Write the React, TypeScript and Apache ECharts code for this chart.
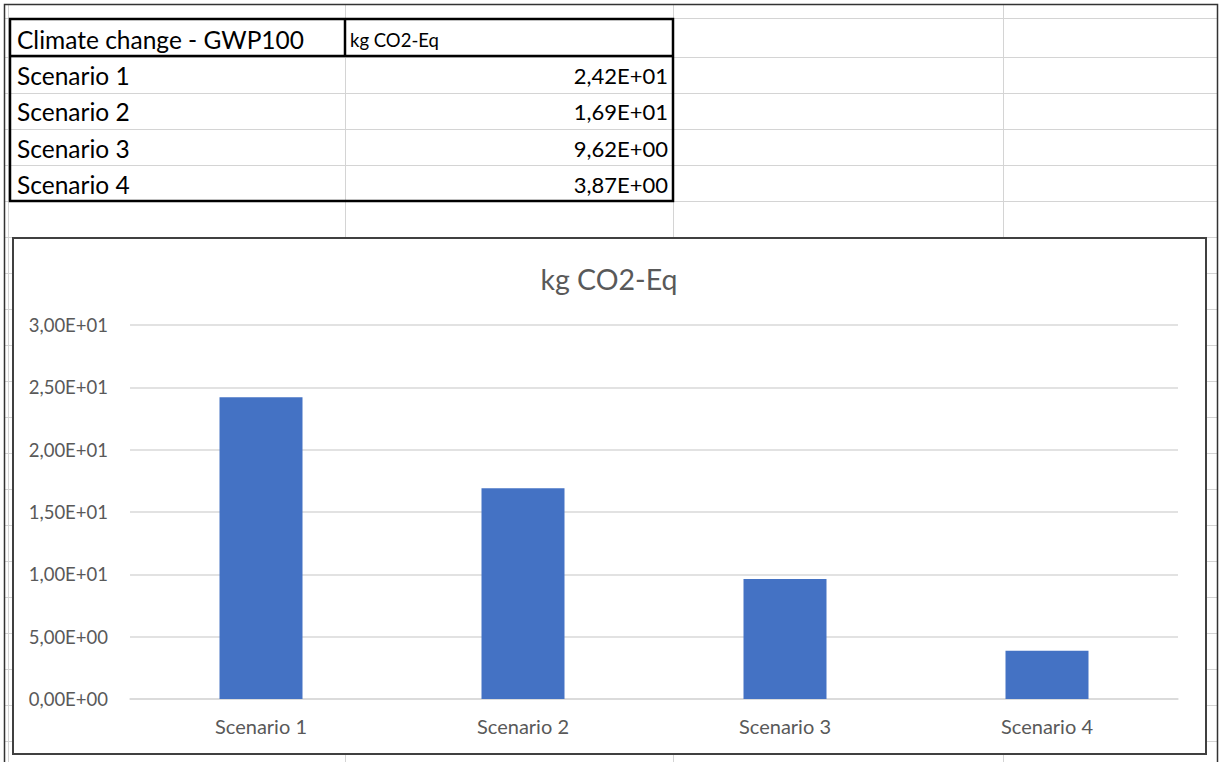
import React, { useEffect, useRef } from "react";
import * as echarts from "echarts";

const categories = ["Scenario 1", "Scenario 2", "Scenario 3", "Scenario 4"];
const values = [24.2, 16.9, 9.62, 3.87];
const headerLabel = "Climate change - GWP100";
const unitLabel = "kg CO2-Eq";
const yMin = 0;
const yMax = 30;
const yInterval = 5;

function fmtE(v: number): string {
  if (v === 0) return "0,00E+00";
  let e = Math.floor(Math.log10(Math.abs(v)));
  let m = v / Math.pow(10, e);
  if (Number(m.toFixed(2)) >= 10) {
    m /= 10;
    e += 1;
  }
  const s = m.toFixed(2).replace(".", ",");
  const es = (e < 0 ? "-" : "+") + String(Math.abs(e)).padStart(2, "0");
  return s + "E" + es;
}

const FONT = "Lato, 'Open Sans', sans-serif";

function buildGraphics() {
  const els: any[] = [];
  const gray = "#d4d4d4";
  // spreadsheet horizontal lines
  const rowYs: number[] = [18, 57];
  for (let y = 93; y < 762; y += 36) rowYs.push(y);
  rowYs.forEach((y) =>
    els.push({
      type: "line",
      z: -30,
      shape: { x1: 5, y1: y + 0.5, x2: 1217, y2: y + 0.5 },
      style: { stroke: gray, lineWidth: 1 },
    })
  );
  [8, 345, 673, 1003].forEach((x) =>
    els.push({
      type: "line",
      z: -30,
      shape: { x1: x + 0.5, y1: 4, x2: x + 0.5, y2: 762 },
      style: { stroke: gray, lineWidth: 1 },
    })
  );
  // outer frame
  els.push({
    type: "polyline",
    z: -25,
    shape: { points: [[4.5, 762], [4.5, 4.5], [1217.5, 4.5], [1217.5, 762]] },
    style: { stroke: "#333333", lineWidth: 1.5, fill: "none" },
  });
  // table borders
  els.push({
    type: "rect",
    z: -20,
    shape: { x: 10, y: 19, width: 663, height: 182 },
    style: { fill: "none", stroke: "#000000", lineWidth: 2.5 },
  });
  els.push({
    type: "line",
    z: -20,
    shape: { x1: 10, y1: 56, x2: 673, y2: 56 },
    style: { stroke: "#000000", lineWidth: 2.5 },
  });
  els.push({
    type: "line",
    z: -20,
    shape: { x1: 345, y1: 19, x2: 345, y2: 56 },
    style: { stroke: "#000000", lineWidth: 2.5 },
  });
  // table texts
  els.push({
    type: "text",
    z: -20,
    style: {
      text: headerLabel,
      x: 17,
      y: 39,
      fill: "#000000",
      font: `24.5px ${FONT}`,
      textAlign: "left",
      textVerticalAlign: "middle",
    },
  });
  els.push({
    type: "text",
    z: -20,
    style: {
      text: unitLabel,
      x: 350,
      y: 40,
      fill: "#000000",
      font: `18.5px ${FONT}`,
      textAlign: "left",
      textVerticalAlign: "middle",
    },
  });
  const rowCenters = [75, 111, 148, 184];
  categories.forEach((c, i) => {
    els.push({
      type: "text",
      z: -20,
      style: {
        text: c,
        x: 17,
        y: rowCenters[i],
        fill: "#000000",
        font: `24.5px ${FONT}`,
        textAlign: "left",
        textVerticalAlign: "middle",
      },
    });
    els.push({
      type: "text",
      z: -20,
      style: {
        text: fmtE(values[i]),
        x: 668,
        y: rowCenters[i],
        fill: "#000000",
        font: `22px ${FONT}`,
        textAlign: "right",
        textVerticalAlign: "middle",
      },
    });
  });
  // chart box
  els.push({
    type: "rect",
    z: -10,
    shape: { x: 13, y: 238, width: 1193, height: 516 },
    style: { fill: "#ffffff", stroke: "#404040", lineWidth: 2 },
  });
  // chart title
  els.push({
    type: "text",
    z: 5,
    style: {
      text: unitLabel,
      x: 609,
      y: 279,
      fill: "#595959",
      font: `28.5px ${FONT}`,
      textAlign: "center",
      textVerticalAlign: "middle",
    },
  });
  return els;
}

export default function App() {
  const ref = useRef<HTMLDivElement>(null);
  useEffect(() => {
    if (!ref.current) return;
    const chart = echarts.init(ref.current, undefined, { renderer: "svg" });
    chart.setOption({
      animation: false,
      backgroundColor: "#ffffff",
      graphic: { elements: buildGraphics() },
      grid: { left: 130, right: 43, top: 325, bottom: 63 },
      xAxis: {
        type: "category",
        data: categories,
        axisLine: { show: true, lineStyle: { color: "#d9d9d9", width: 1.5 } },
        axisTick: { show: false },
        axisLabel: {
          color: "#595959",
          fontSize: 20,
          fontFamily: FONT,
          margin: 17,
        },
      },
      yAxis: {
        type: "value",
        min: yMin,
        max: yMax,
        interval: yInterval,
        axisLine: { show: false },
        axisTick: { show: false },
        splitLine: { lineStyle: { color: "#d9d9d9", width: 1.5 } },
        axisLabel: {
          color: "#595959",
          fontSize: 18.5,
          fontFamily: FONT,
          margin: 22,
          formatter: (v: number) => fmtE(v),
        },
      },
      series: [
        {
          type: "bar",
          data: values,
          barWidth: 83,
          itemStyle: { color: "#4472C4" },
        },
      ],
    });
    return () => chart.dispose();
  }, []);
  return (
    <div
      ref={ref}
      style={{ position: "fixed", left: 0, top: 0, width: 1221, height: 762 }}
    />
  );
}
